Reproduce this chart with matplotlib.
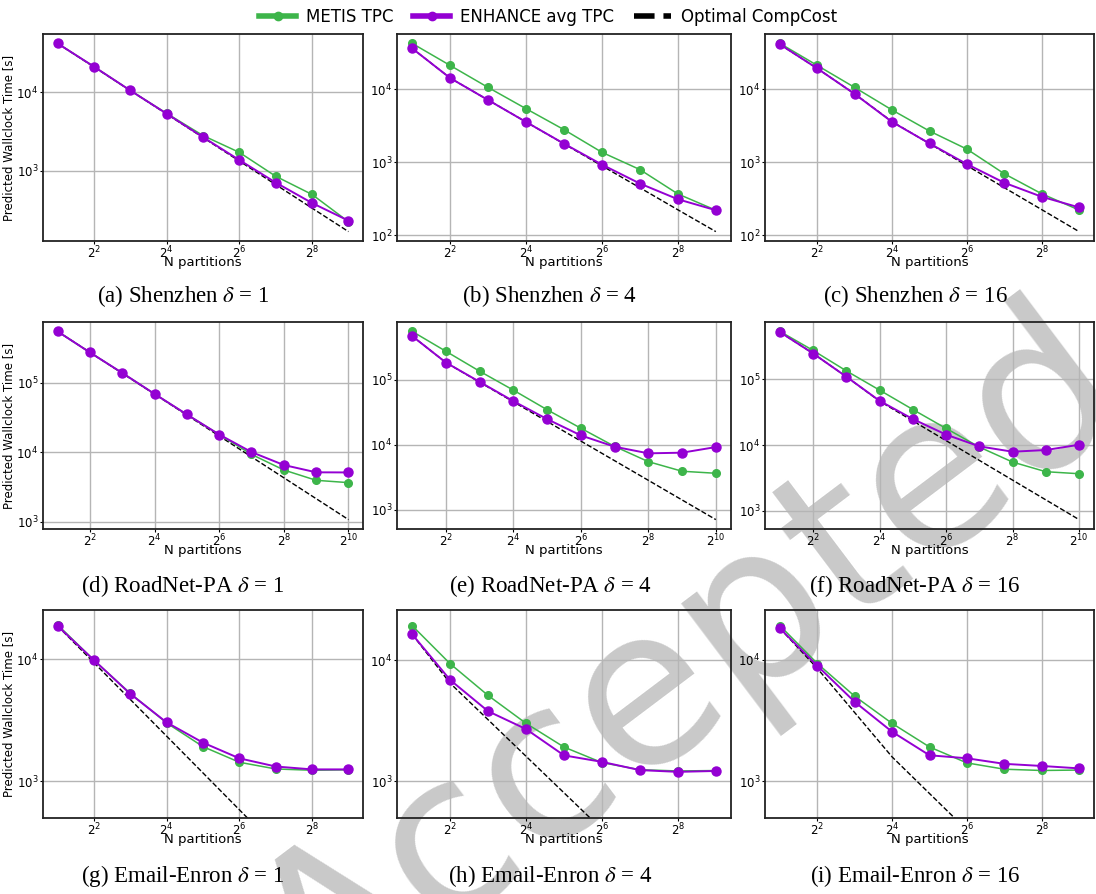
import numpy as np
import matplotlib
matplotlib.use("Agg")
import matplotlib.pyplot as plt
from matplotlib.lines import Line2D

plt.rcParams['mathtext.fontset'] = 'stix'

# N partitions
n_short = [2, 4, 8, 16, 32, 64, 128, 256, 512]
n_long = [2, 4, 8, 16, 32, 64, 128, 256, 512, 1024]

# Shenzhen
shenzhen_d1_metis = [42400, 21400, 10600, 5400, 2810, 1710, 847, 495, 222]
shenzhen_d1_enhance = [42400, 21400, 10600, 5350, 2680, 1366, 703, 385, 229]
shenzhen_d1_opt = [42400, 21200, 10600, 5300, 2650, 1325, 662, 331, 166]

shenzhen_d4_metis = [42700, 21300, 10630, 5430, 2800, 1370, 794, 368, 220]
shenzhen_d4_enhance = [36500, 14300, 7140, 3570, 1800, 929, 511, 311, 220]
shenzhen_d4_opt = [36500, 14300, 7150, 3575, 1788, 894, 447, 223, 112]

shenzhen_d16_metis = [42100, 21000, 10500, 5160, 2660, 1506, 693, 369, 221]
shenzhen_d16_enhance = [40800, 19100, 8550, 3540, 1800, 939, 522, 336, 240]
shenzhen_d16_opt = [40800, 19100, 8550, 3580, 1790, 895, 447, 224, 112]

# RoadNet-PA
roadnet_d1_metis = [546000, 272000, 138000, 68800, 34800, 17900, 9260, 5520, 3920, 3630]
roadnet_d1_enhance = [546000, 272000, 138000, 68800, 34800, 17900, 10000, 6510, 5110, 5090]
roadnet_d1_opt = [546000, 273000, 136500, 68250, 34125, 17063, 8531, 4266, 2133, 1066]

roadnet_d4_metis = [547000, 271000, 134000, 68700, 34400, 17900, 9430, 5500, 3920, 3650]
roadnet_d4_enhance = [464000, 182000, 92100, 46600, 24700, 13900, 9320, 7380, 7550, 9210]
roadnet_d4_opt = [464000, 182000, 91000, 45500, 22750, 11375, 5690, 2845, 1422, 711]

roadnet_d16_metis = [541000, 277000, 135000, 68700, 34800, 17900, 9320, 5500, 3920, 3650]
roadnet_d16_enhance = [528000, 249000, 110000, 47200, 24900, 14400, 9540, 7910, 8390, 10100]
roadnet_d16_opt = [528000, 249000, 110000, 46656, 23328, 11664, 5832, 2916, 1458, 729]

# Email-Enron
enron_d1_metis = [19100, 9810, 5240, 3000, 1920, 1430, 1260, 1230, 1240]
enron_d1_enhance = [18700, 9810, 5190, 3030, 2070, 1540, 1320, 1250, 1250]
enron_d1_opt = [18700, 9350, 4675, 2338, 1169, 584, 292, 146, 73]

enron_d4_metis = [19200, 9330, 5110, 3010, 1920, 1430, 1250, 1220, 1230]
enron_d4_enhance = [16300, 6860, 3790, 2700, 1640, 1450, 1240, 1200, 1220]
enron_d4_opt = [16300, 6450, 3225, 1612, 806, 403, 202, 101, 50]

enron_d16_metis = [19100, 9330, 5020, 3000, 1920, 1420, 1260, 1230, 1240]
enron_d16_enhance = [18150, 8930, 4510, 2560, 1640, 1550, 1395, 1340, 1280]
enron_d16_opt = [18150, 8500, 3680, 1590, 795, 398, 199, 99, 50]

# labelled x ticks (even powers of two)
xticks_short = [4, 16, 64, 256]
xticks_long = [4, 16, 64, 256, 1024]

captions = [
    r"(a) Shenzhen $\delta$ = 1", r"(b) Shenzhen $\delta$ = 4", r"(c) Shenzhen $\delta$ = 16",
    r"(d) RoadNet-PA $\delta$ = 1", r"(e) RoadNet-PA $\delta$ = 4", r"(f) RoadNet-PA $\delta$ = 16",
    r"(g) Email-Enron $\delta$ = 1", r"(h) Email-Enron $\delta$ = 4", r"(i) Email-Enron $\delta$ = 16",
]

panels = [
    (n_short, shenzhen_d1_metis, shenzhen_d1_enhance, shenzhen_d1_opt),
    (n_short, shenzhen_d4_metis, shenzhen_d4_enhance, shenzhen_d4_opt),
    (n_short, shenzhen_d16_metis, shenzhen_d16_enhance, shenzhen_d16_opt),
    (n_long, roadnet_d1_metis, roadnet_d1_enhance, roadnet_d1_opt),
    (n_long, roadnet_d4_metis, roadnet_d4_enhance, roadnet_d4_opt),
    (n_long, roadnet_d16_metis, roadnet_d16_enhance, roadnet_d16_opt),
    (n_short, enron_d1_metis, enron_d1_enhance, enron_d1_opt),
    (n_short, enron_d4_metis, enron_d4_enhance, enron_d4_opt),
    (n_short, enron_d16_metis, enron_d16_enhance, enron_d16_opt),
]

GREEN = "#3db54a"
PURPLE = "#9400d3"

W, H = 1096, 894
fig = plt.figure(figsize=(W / 100, H / 100), dpi=100)

# pixel boxes of the subplots
col_left = [43, 397, 765]
col_right = [363, 731, 1094]
row_top = [34, 322, 610]
row_bot = [241, 529, 818]
cap_x = [183, 550, 915]
cap_y = [296, 586, 876]

for k, (n, metis, enh, opt) in enumerate(panels):
    r, c = divmod(k, 3)
    w_px = col_right[c] - col_left[c]
    h_px = row_bot[r] - row_top[r]
    ax = fig.add_axes([col_left[c] / W, 1 - row_bot[r] / H, w_px / W, h_px / H])
    ax.set_facecolor("none")
    ax.plot(n, metis, "-o", color=GREEN, lw=1.1, ms=5.5, zorder=3)
    ax.plot(n, enh, "-o", color=PURPLE, lw=1.4, ms=6.5, zorder=4)
    ax.plot(n, opt, "--", color="black", lw=1.0, zorder=2)
    ax.set_xscale("log", base=2)
    ax.set_yscale("log")
    ax.set_xticks(xticks_long if len(n) == 10 else xticks_short)
    ax.minorticks_off()
    if r == 2:
        ax.set_ylim(bottom=500)
    ax.grid(True, color="#b5b5b5", lw=1.0)
    ax.set_axisbelow(True)
    for sp in ax.spines.values():
        sp.set_linewidth(1.3)
        sp.set_color("#222222")
    ax.tick_params(axis="x", labelsize=8.5, length=2, pad=0.5)
    ax.tick_params(axis="y", labelsize=8.5, length=2, pad=1.5)
    ax.set_xlabel("N partitions", fontsize=9.5)
    ax.xaxis.set_label_coords(0.5, -15 / h_px)
    if c == 0:
        ax.set_ylabel("Predicted Wallclock Time [s]", fontsize=8.5)
        ax.yaxis.set_label_coords(-28 / w_px, 0.5)
    fig.text(cap_x[c] / W, 1 - cap_y[r] / H, captions[k], ha="center", va="center",
             fontsize=16.5, family="Liberation Serif")

handles = [
    Line2D([], [], color=GREEN, lw=4, marker="o", ms=6),
    Line2D([], [], color=PURPLE, lw=4, marker="o", ms=6),
    Line2D([], [], color="black", lw=4, ls="--"),
]
fig.legend(handles, ["METIS TPC", "ENHANCE avg TPC", "Optimal CompCost"],
           loc="upper center", bbox_to_anchor=(0.5, 1.008), ncol=3, frameon=False,
           fontsize=12, handlelength=2.2, columnspacing=1.2, handletextpad=0.6)

# watermark, drawn under the axes
fig.text(692 / W, 1 - 668 / H, "Accepted", rotation=37, ha="center", va="center",
         fontsize=158, color="#c9c9c9", zorder=-1, family="DejaVu Sans",
         rotation_mode="anchor")

fig.savefig("out.png", dpi=100)
